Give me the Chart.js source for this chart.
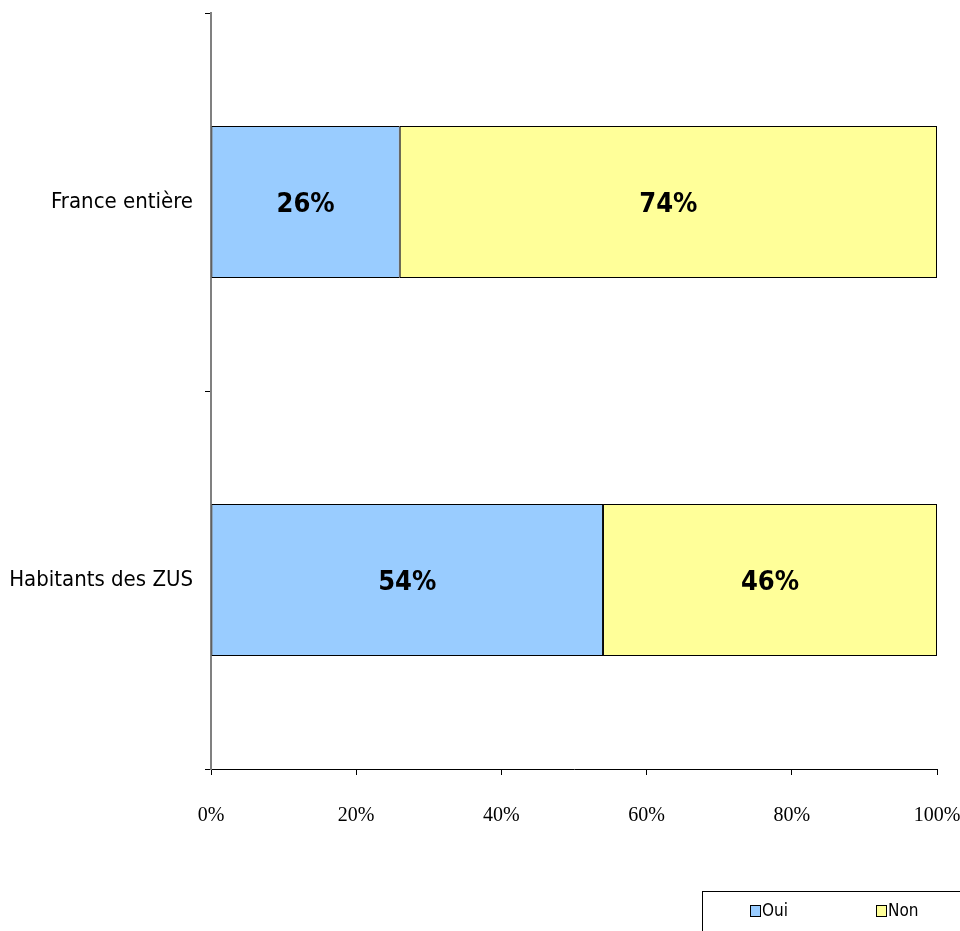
<!DOCTYPE html>
<html>
<head>
<meta charset="utf-8">
<script src="https://cdn.jsdelivr.net/npm/chart.js@4.4.0/dist/chart.umd.min.js"></script>
<style>
  html, body { margin: 0; padding: 0; background: #fff; }
  #wrap { width: 960px; height: 931px; }
</style>
</head>
<body>
<div id="wrap"><canvas id="bars"></canvas></div>
<script>
var categories = ['France entière', 'Habitants des ZUS'];
var seriesNames = ['Oui', 'Non'];
var ouiValues = [26, 54];
var nonValues = [74, 46];
var xTickValues = [0, 20, 40, 60, 80, 100];

var narrow = "'DejaVu Sans Condensed', 'Liberation Sans Narrow', sans-serif";

// labels inside the bars
var barLabels = {
    id: 'barLabels',
    afterDatasetsDraw: function (chart) {
        var ctx = chart.ctx;
        ctx.save();
        ctx.font = 'bold 27px ' + narrow;
        ctx.fillStyle = '#000';
        ctx.textAlign = 'center';
        ctx.textBaseline = 'middle';
        chart.data.datasets.forEach(function (ds, i) {
            chart.getDatasetMeta(i).data.forEach(function (bar, j) {
                var p = bar.getCenterPoint();
                ctx.fillText(ds.data[j] + '%', p.x, p.y + 3);
            });
        });
        ctx.restore();
    }
};

// boxed legend at the bottom right
var boxLegend = {
    id: 'boxLegend',
    afterDraw: function (chart) {
        var ctx = chart.ctx;
        var left = 702, top = 891;
        ctx.save();
        ctx.strokeStyle = '#000';
        ctx.lineWidth = 1;
        ctx.strokeRect(left + 0.5, top + 0.5, chart.width, 60);
        ctx.font = '17px ' + narrow;
        ctx.textBaseline = 'middle';
        ctx.textAlign = 'left';
        var xs = [750, 876];
        chart.data.datasets.forEach(function (ds, i) {
            ctx.fillStyle = ds.backgroundColor;
            ctx.fillRect(xs[i] + 0.5, 905.5, 10, 11);
            ctx.strokeRect(xs[i] + 0.5, 905.5, 10, 11);
            ctx.fillStyle = '#000';
            ctx.fillText(ds.label, xs[i] + 12, 912);
        });
        ctx.restore();
    }
};

new Chart(document.getElementById('bars'), {
    type: 'bar',
    data: {
        labels: categories,
        datasets: [{
            label: seriesNames[0],
            data: ouiValues,
            backgroundColor: '#99CCFF',
            borderColor: '#000',
            borderWidth: 1,
            borderSkipped: false,
            categoryPercentage: 1,
            barPercentage: 0.402
        }, {
            label: seriesNames[1],
            data: nonValues,
            backgroundColor: '#FFFF99',
            borderColor: '#000',
            borderWidth: 1,
            borderSkipped: false,
            categoryPercentage: 1,
            barPercentage: 0.402
        }]
    },
    plugins: [barLabels, boxLegend],
    options: {
        indexAxis: 'y',
        responsive: true,
        maintainAspectRatio: false,
        animation: false,
        layout: { padding: 0 },
        plugins: {
            legend: { display: false },
            tooltip: { enabled: false }
        },
        scales: {
            x: {
                stacked: true,
                min: 0,
                max: 100,
                afterBuildTicks: function (scale) {
                    scale.ticks = xTickValues.map(function (v) { return { value: v }; });
                },
                afterFit: function (scale) {
                    scale.height = 162;
                    scale.paddingLeft = 0;
                    scale.paddingRight = 23;
                },
                grid: {
                    drawOnChartArea: false,
                    drawTicks: true,
                    tickLength: 6,
                    color: '#000'
                },
                border: { color: '#000', width: 1 },
                ticks: {
                    padding: 29,
                    color: '#000',
                    font: { family: "'Liberation Serif', 'Times New Roman', serif", size: 20 },
                    callback: function (v) { return v + '%'; }
                }
            },
            y: {
                stacked: true,
                afterFit: function (scale) {
                    scale.width = 211;
                    scale.paddingTop = 13;
                    scale.paddingBottom = 0;
                },
                grid: {
                    offset: true,
                    drawOnChartArea: false,
                    drawTicks: true,
                    tickLength: 6,
                    color: '#000'
                },
                border: { color: '#808080', width: 2 },
                ticks: {
                    padding: 12,
                    color: '#000',
                    font: { family: narrow, size: 22 }
                }
            }
        }
    }
});
</script>
</body>
</html>
